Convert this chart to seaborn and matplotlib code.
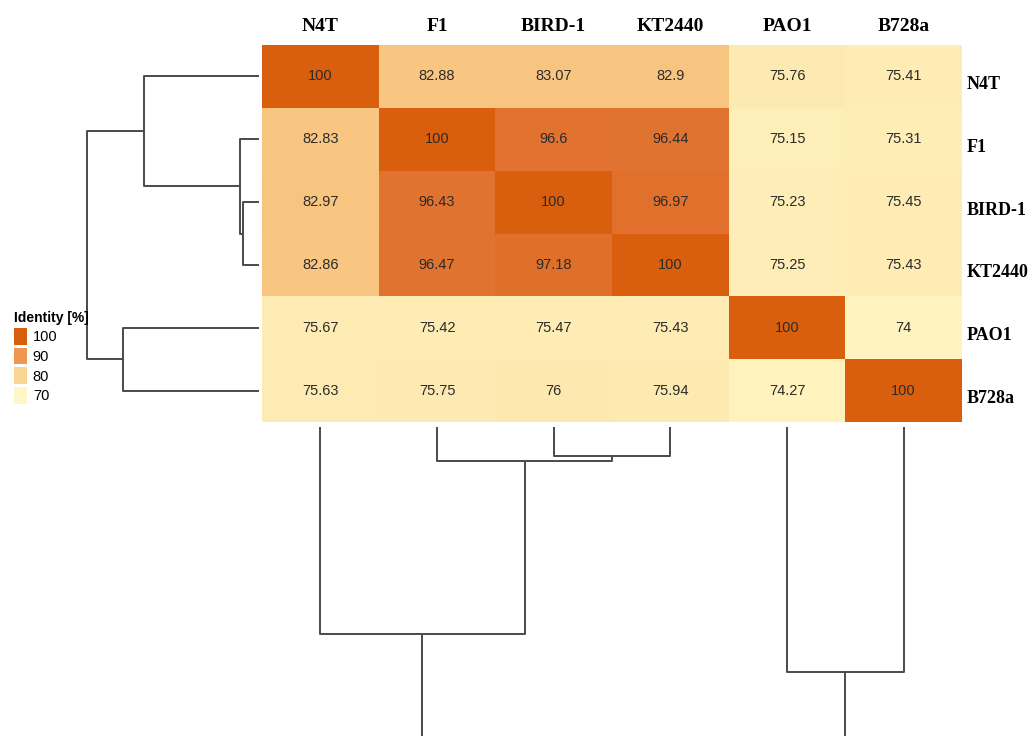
import numpy as np
import pandas as pd
import seaborn as sns
import matplotlib.pyplot as plt
import matplotlib.transforms as mtransforms
from matplotlib.colors import LinearSegmentedColormap
from matplotlib.patches import Patch

strains = ['N4T', 'F1', 'BIRD-1', 'KT2440', 'PAO1', 'B728a']

identity = [
    [100, 82.88, 83.07, 82.9, 75.76, 75.41],
    [82.83, 100, 96.6, 96.44, 75.15, 75.31],
    [82.97, 96.43, 100, 96.97, 75.23, 75.45],
    [82.86, 96.47, 97.18, 100, 75.25, 75.43],
    [75.67, 75.42, 75.47, 75.43, 100, 74],
    [75.63, 75.75, 76, 75.94, 74.27, 100],
]

# merges: (cluster a, cluster b, height) -- new clusters get ids 6, 7, ...
row_links = [(2, 3, 16), (1, 6, 19), (0, 7, 115), (4, 5, 136), (8, 9, 172)]

legend_values = [100, 90, 80, 70]

# colour ramp
ramp_values = [70, 74, 76, 83, 90, 96.5, 100]
ramp_colors = ['#fff6c8', '#fff3bf', '#fde9b0', '#f8c580', '#ee9752', '#e17330', '#d95f0e']

vmin, vmax = 70, 100
cmap = LinearSegmentedColormap.from_list(
    'identity', [((v - vmin) / (vmax - vmin), c) for v, c in zip(ramp_values, ramp_colors)])

df = pd.DataFrame(identity, index=strains, columns=strains)

W, H = 1032, 736
fig = plt.figure(figsize=(W / 100, H / 100), dpi=100)


def px_axes(x0, y0, x1, y1):
    return fig.add_axes([x0 / W, 1 - y1 / H, (x1 - x0) / W, (y1 - y0) / H])


sans = ['Liberation Sans', 'DejaVu Sans']
serif = ['Liberation Serif', 'DejaVu Serif']

# heatmap
ax = px_axes(262, 45, 962, 422)
sns.heatmap(df, ax=ax, cmap=cmap, vmin=vmin, vmax=vmax, cbar=False,
            annot=True, fmt='g',
            annot_kws={'color': '#2b2b2b', 'fontsize': 10.5, 'family': sans})
ax.xaxis.tick_top()
ax.yaxis.tick_right()
ax.tick_params(length=0)
ax.tick_params(axis='x', pad=7)
ax.tick_params(axis='y', pad=3)
ax.set_xticklabels(strains, fontsize=14, fontweight='bold', family=serif, rotation=0)
ax.set_yticklabels(strains, fontsize=13, fontweight='bold', family=serif, rotation=0,
                   ha='left')
shift = mtransforms.ScaledTranslation(0, -6 / 100, fig.dpi_scale_trans)
for t in ax.get_yticklabels():
    t.set_transform(t.get_transform() + shift)
ax.set_xlabel('')
ax.set_ylabel('')


def dendro_segments(links, n):
    pos = {i: i + 0.5 for i in range(n)}
    hgt = {i: 0 for i in range(n)}
    segs = []
    for k, (a, b, h) in enumerate(links):
        segs.append(([pos[a], pos[a], pos[b], pos[b]], [hgt[a], h, h, hgt[b]]))
        pos[n + k] = (pos[a] + pos[b]) / 2
        hgt[n + k] = h
    return segs


segs = dendro_segments(row_links, len(strains))
line_kw = dict(color='#4a4a4a', lw=1.4, solid_capstyle='butt')

# row dendrogram (left)
axr = px_axes(60, 45, 259, 422)
for p, h in segs:
    axr.plot(h, p, **line_kw)
axr.set_xlim(199, 0)
axr.set_ylim(len(strains), 0)
axr.axis('off')

# column dendrogram (below), lines run off the bottom edge
axc = px_axes(262, 427, 962, 747)
for p, h in segs:
    axc.plot(p, h, **line_kw)
axc.set_xlim(0, len(strains))
axc.set_ylim(320 / 1.8, 0)
axc.axis('off')

# legend
handles = [Patch(facecolor=cmap((v - vmin) / (vmax - vmin)), edgecolor='none', label=str(v))
           for v in legend_values]
leg = fig.legend(handles=handles, title='Identity [%]', loc='upper left',
                 bbox_to_anchor=(8 / W, 1 - 305 / H), frameon=False,
                 handlelength=0.9, handleheight=1.4, handletextpad=0.4,
                 labelspacing=0.2, borderaxespad=0,
                 prop={'family': sans, 'size': 10.5},
                 title_fontproperties={'family': sans, 'size': 10, 'weight': 'bold'})
leg._legend_box.align = 'left'

fig.savefig('out.png', dpi=100)
